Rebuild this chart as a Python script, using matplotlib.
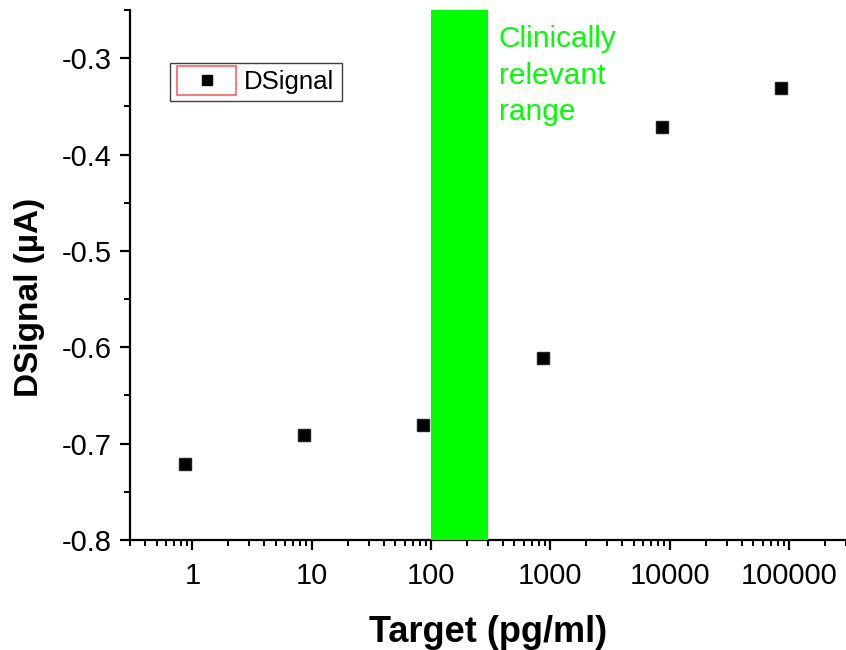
import matplotlib
matplotlib.use('Agg')
import matplotlib.pyplot as plt
import numpy as np
from matplotlib.legend_handler import HandlerBase
from matplotlib.patches import Rectangle
from matplotlib.lines import Line2D
from matplotlib.ticker import FixedLocator, MultipleLocator, LogLocator, NullFormatter

plt.rcParams['font.family'] = ['Liberation Sans', 'DejaVu Sans']

# DATA
target = [0.86, 8.6, 86, 860, 8600, 86000]          # pg/ml
dsignal = [-0.721, -0.691, -0.681, -0.611, -0.371, -0.331]  # uA
clinical_range = (100, 300)
xticks = [1, 10, 100, 1000, 10000, 100000]
xtick_labels = ['1', '10', '100', '1000', '10000', '100000']
yticks = [-0.8, -0.7, -0.6, -0.5, -0.4, -0.3]
ytick_labels = ['-0.8', '-0.7', '-0.6', '-0.5', '-0.4', '-0.3']

GREEN = '#00ff00'


# legend handle: marker inside a red frame (Origin style)
class BoxedMarker(HandlerBase):
    def create_artists(self, legend, orig_handle, xdescent, ydescent,
                       width, height, fontsize, trans):
        rect = Rectangle((-xdescent, -ydescent - 4), width, height + 8,
                         fc='none', ec='#ff6060', lw=1.2, transform=trans)
        mk = Line2D([width / 2 - xdescent], [height / 2 - ydescent],
                    marker='s', ms=7, color='black', ls='', transform=trans)
        return [rect, mk]


fig = plt.figure(figsize=(8.46, 6.5), dpi=100)
ax = fig.add_axes([0.1537, 0.1692, 0.8463, 0.8154])

line, = ax.plot(target, dsignal, ls='', marker='s', ms=8.6,
                color='black', mec='#222222', zorder=2, label='DSignal')

ax.axvspan(clinical_range[0], clinical_range[1], color=GREEN, lw=0, zorder=3)

ax.text(370, -0.266, 'Clinically\nrelevant\nrange', color=GREEN,
        fontsize=21.5, ha='left', va='top', linespacing=1.38)

ax.set_xscale('log')
ax.set_xlim(0.3, 300000)
ax.set_ylim(-0.8, -0.25)

ax.xaxis.set_major_locator(FixedLocator(xticks))
ax.set_xticklabels(xtick_labels)
ax.xaxis.set_minor_locator(LogLocator(base=10, subs=np.arange(2, 10)))
ax.xaxis.set_minor_formatter(NullFormatter())

ax.yaxis.set_major_locator(FixedLocator(yticks))
ax.set_yticklabels(ytick_labels)
ax.yaxis.set_minor_locator(MultipleLocator(0.05))

ax.spines['top'].set_visible(False)
ax.spines['right'].set_visible(False)
for s in ['left', 'bottom']:
    ax.spines[s].set_linewidth(1.6)

ax.tick_params(which='major', direction='out', length=7, width=1.6,
               labelsize=21, pad=6)
ax.tick_params(axis='x', which='major', pad=9)
ax.tick_params(which='minor', direction='out', length=4, width=1.4)

ax.set_xlabel('Target (pg/ml)', fontsize=26, fontweight='bold', labelpad=18)
ax.set_ylabel('DSignal (µA)', fontsize=24, fontweight='bold')
ax.yaxis.set_label_coords(-0.119, 0.458)

leg = ax.legend(handles=[line], loc='upper left',
                bbox_to_anchor=(0.056, 0.90), fontsize=18.5,
                handler_map={Line2D: BoxedMarker()},
                fancybox=False, framealpha=1, edgecolor='#404040',
                handlelength=2.3, handletextpad=0.3, borderpad=0.28,
                borderaxespad=0)
leg.get_frame().set_linewidth(1.0)

fig.savefig('out.png', dpi=100, facecolor='white')
